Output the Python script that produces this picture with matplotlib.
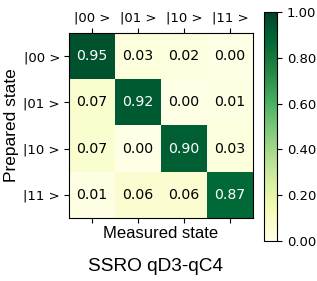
import numpy as np
import matplotlib
matplotlib.use('Agg')
import matplotlib.pyplot as plt

# dane: macierz odczytu (wiersze: stan przygotowany, kolumny: stan zmierzony)
states = ['|00 >', '|01 >', '|10 >', '|11 >']
probs = np.array([
    [0.95, 0.03, 0.02, 0.00],
    [0.07, 0.92, 0.00, 0.01],
    [0.07, 0.00, 0.90, 0.03],
    [0.01, 0.06, 0.06, 0.87],
])
title = 'SSRO qD3-qC4'

label_font = ['Liberation Sans', 'DejaVu Sans']

fig = plt.figure(figsize=(3.17, 2.81), dpi=100)
ax = fig.add_axes([0.218, 0.224, 0.580, 0.658])
cax = fig.add_axes([0.833, 0.142, 0.041, 0.815])

im = ax.imshow(probs, cmap='YlGn', vmin=0, vmax=1, aspect='auto')

# wartości w komórkach
for i in range(len(states)):
    for j in range(len(states)):
        v = probs[i, j]
        ax.text(j, i, f'{v:.2f}', ha='center', va='center', fontsize=10.2,
                color='white' if v > 0.5 else 'black')

ax.set_xticks(range(len(states)))
ax.set_yticks(range(len(states)))
ax.set_xticklabels(states, fontsize=9.5)
ax.set_yticklabels(states, fontsize=9.5)
ax.tick_params(axis='x', top=True, labeltop=True, bottom=True, labelbottom=False, pad=3)
ax.tick_params(axis='y', pad=3)
ax.set_xlabel('Measured state', fontsize=12, labelpad=2, family=label_font)
ax.set_ylabel('Prepared state', fontsize=12.5, labelpad=3, family=label_font)
fig.text(0.49, 0.053, title, ha='center', va='center', fontsize=13.7, family=label_font)

cb = fig.colorbar(im, cax=cax)
cb.set_ticks([0, 0.2, 0.4, 0.6, 0.8, 1.0])
cb.ax.set_yticklabels(['0.00', '0.20', '0.40', '0.60', '0.80', '1.00'], fontsize=9.5)

fig.savefig('out.png', dpi=100)
